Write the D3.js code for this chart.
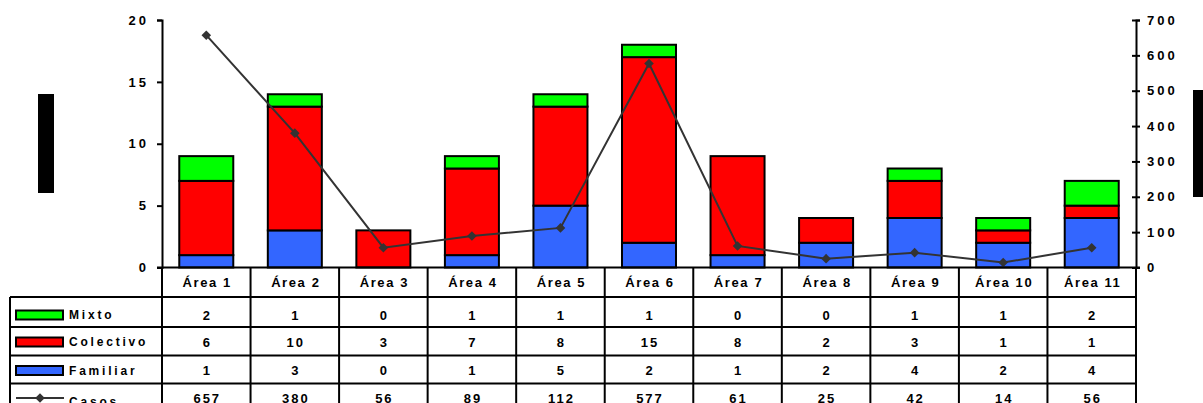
<!DOCTYPE html>
<html><head><meta charset="utf-8">
<script src="https://cdn.jsdelivr.net/npm/d3@7"></script>
<style>
body{margin:0;background:#fff;}
svg{display:block;font-family:"Liberation Sans",Arial,sans-serif;font-weight:bold;}
</style></head><body>
<svg id="c" width="1203" height="403"></svg>
<script>
const categories = ["Área 1","Área 2","Área 3","Área 4","Área 5","Área 6","Área 7","Área 8","Área 9","Área 10","Área 11"];
const familiar = [1,3,0,1,5,2,1,2,4,2,4];
const colectivo = [6,10,3,7,8,15,8,2,3,1,1];
const mixto = [2,1,0,1,1,1,0,0,1,1,2];
const casos = [657,380,56,89,112,577,61,25,42,14,56];
const leftTicks = [0,5,10,15,20];
const rightTicks = [0,100,200,300,400,500,600,700];
const seriesNames = ["Familiar","Colectivo","Mixto"];
const seriesColors = {"Familiar":"#3366ff","Colectivo":"#ff0000","Mixto":"#00ff00"};

const svg = d3.select("#c");
const x0 = 162, x1 = 1136, yTop = 20, yBot = 267.5;

const xCol = d3.scaleBand().domain(categories).range([x0, x1]).padding(0);
const xBar = d3.scaleBand().domain(categories).range([x0, x1]).paddingInner(0.39).paddingOuter(0.195);
const yL = d3.scaleLinear().domain([0,20]).range([yBot, yTop]);
const yR = d3.scaleLinear().domain([0,700]).range([yBot, yTop]);

// black decorative title blocks
svg.append("rect").attr("x",38).attr("y",94).attr("width",16).attr("height",99).attr("fill","#000");
svg.append("rect").attr("x",1193).attr("y",90).attr("width",10).attr("height",107).attr("fill","#000");

// stacked bars
const rows = categories.map((c,i)=>({cat:c, Familiar:familiar[i], Colectivo:colectivo[i], Mixto:mixto[i]}));
const stack = d3.stack().keys(seriesNames)(rows);
const gBars = svg.append("g");
stack.forEach(layer=>{
  gBars.selectAll(null).data(layer.filter(d=>d[1]-d[0]>0)).enter().append("rect")
    .attr("x", d=>xBar(d.data.cat))
    .attr("width", xBar.bandwidth())
    .attr("y", d=>yL(d[1]))
    .attr("height", d=>yL(d[0])-yL(d[1]))
    .attr("fill", seriesColors[layer.key])
    .attr("stroke","#000").attr("stroke-width",2);
});

// line
const lineColor = "#333333";
const line = d3.line().x((d,i)=>xCol(categories[i])+xCol.bandwidth()/2).y(d=>yR(d));
svg.append("path").datum(casos).attr("d",line).attr("fill","none").attr("stroke",lineColor).attr("stroke-width",2);
const diamond = d3.symbol().type(d3.symbolSquare).size(46);
svg.selectAll(".pt").data(casos).enter().append("path")
  .attr("transform",(d,i)=>`translate(${xCol(categories[i])+xCol.bandwidth()/2},${yR(d)}) rotate(45)`)
  .attr("d",diamond).attr("fill",lineColor);

// left axis
const axL = svg.append("g").attr("transform",`translate(${x0},0)`)
  .call(d3.axisLeft(yL).tickValues(leftTicks).tickSize(5).tickPadding(8));
axL.select(".domain").attr("stroke","#000").attr("stroke-width",2);
axL.selectAll(".tick line").attr("stroke","#000").attr("stroke-width",2);
axL.selectAll("text").attr("font-size",13).attr("font-weight","bold").attr("fill","#000")
  .attr("font-family","'Liberation Sans',Arial,sans-serif").style("letter-spacing","3px");

// right axis
const axR = svg.append("g").attr("transform",`translate(${x1},0)`)
  .call(d3.axisRight(yR).tickValues(rightTicks).tickSize(4).tickPadding(7));
axR.select(".domain").attr("stroke","#000").attr("stroke-width",2);
axR.selectAll(".tick line").attr("stroke","#000").attr("stroke-width",2).attr("x1",-4);
axR.selectAll("text").attr("font-size",13).attr("font-weight","bold").attr("fill","#000")
  .attr("font-family","'Liberation Sans',Arial,sans-serif").style("letter-spacing","3px");

// table
const hLines = [267.5, 297, 327, 355.5, 383.5];
const gT = svg.append("g").attr("stroke","#000").attr("stroke-width",2);
gT.append("line").attr("x1",157).attr("x2",x1+4).attr("y1",hLines[0]).attr("y2",hLines[0]);
hLines.slice(1).forEach(y=>gT.append("line").attr("x1",10).attr("x2",x1).attr("y1",y).attr("y2",y));
categories.forEach(c=>gT.append("line").attr("x1",xCol(c)).attr("x2",xCol(c)).attr("y1",hLines[0]).attr("y2",403));
gT.append("line").attr("x1",x1).attr("x2",x1).attr("y1",hLines[0]).attr("y2",403);
gT.append("line").attr("x1",10).attr("x2",10).attr("y1",hLines[1]).attr("y2",403);

const txt = svg.append("g").attr("font-size",13).attr("font-weight","bold").attr("fill","#000").attr("text-anchor","middle");
categories.forEach(c=>txt.append("text").attr("x",xCol(c)+xCol.bandwidth()/2+1).attr("y",282).attr("dy","0.35em")
  .style("letter-spacing","1.6px").text(c));
const tableRows = [
  {name:"Mixto", vals:mixto, cy:315},
  {name:"Colectivo", vals:colectivo, cy:342},
  {name:"Familiar", vals:familiar, cy:370.5},
  {name:"Casos", vals:casos, cy:398}
];
tableRows.forEach(r=>{
  r.vals.forEach((v,i)=>txt.append("text").attr("x",xCol(categories[i])+xCol.bandwidth()/2+1).attr("y",r.cy).attr("dy","0.35em")
    .style("letter-spacing","2px").text(v));
  if (r.name !== "Casos") {
    svg.append("rect").attr("x",16).attr("y",r.cy-4.5).attr("width",47).attr("height",9)
      .attr("fill",seriesColors[r.name]).attr("stroke","#000").attr("stroke-width",2);
  } else {
    svg.append("line").attr("x1",16).attr("x2",64).attr("y1",r.cy).attr("y2",r.cy).attr("stroke",lineColor).attr("stroke-width",2);
    svg.append("path").attr("transform",`translate(40,${r.cy}) rotate(45)`).attr("d",diamond).attr("fill",lineColor);
  }
  svg.append("text").attr("x",69).attr("y",r.cy+(r.name==="Casos"?4:0)).attr("dy","0.35em").attr("font-size",12).attr("font-weight","bold")
    .style("letter-spacing","2.8px").text(r.name);
});
</script>
</body></html>
